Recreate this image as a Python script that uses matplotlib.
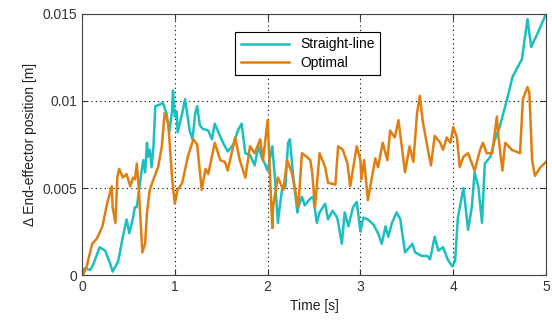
import matplotlib
matplotlib.use("Agg")
import matplotlib.pyplot as plt

# Straight-line trajectory error
t_straight = [0.01, 0.03, 0.09, 0.12, 0.19, 0.25, 0.30, 0.33, 0.39, 0.44, 0.48, 0.51, 0.55, 0.57,
              0.59, 0.63, 0.66, 0.68, 0.70, 0.71, 0.73, 0.75, 0.77, 0.79, 0.84, 0.87, 0.91, 0.94,
              0.97, 0.98, 1.00, 1.02, 1.03, 1.08, 1.11, 1.16, 1.19, 1.22, 1.24, 1.27, 1.30, 1.36,
              1.40, 1.43, 1.47, 1.52, 1.57, 1.63, 1.68, 1.72, 1.76, 1.81, 1.86, 1.90, 1.94, 1.97,
              2.00, 2.05, 2.08, 2.11, 2.13, 2.16, 2.19, 2.22, 2.24, 2.27, 2.32, 2.33, 2.37, 2.40,
              2.46, 2.49, 2.53, 2.56, 2.62, 2.65, 2.70, 2.75, 2.78, 2.80, 2.83, 2.87, 2.92, 2.96,
              3.00, 3.03, 3.08, 3.14, 3.19, 3.23, 3.27, 3.30, 3.34, 3.39, 3.43, 3.48, 3.56, 3.59,
              3.66, 3.72, 3.75, 3.80, 3.84, 3.89, 3.94, 3.99, 4.02, 4.05, 4.11, 4.16, 4.20, 4.23,
              4.27, 4.31, 4.34, 4.40, 4.45, 4.50, 4.58, 4.64, 4.74, 4.80, 4.84, 4.91, 5.00]
e_straight = [0.0002, 0.0004, 0.0003, 0.0006, 0.0016, 0.0014, 0.0007, 0.0002, 0.0008, 0.0022, 0.0032,
              0.0024, 0.0033, 0.0039, 0.0039, 0.0055, 0.0066, 0.0059, 0.0076, 0.0068, 0.0072, 0.0062,
              0.0074, 0.0097, 0.0098, 0.0099, 0.0093, 0.0082, 0.0094, 0.0106, 0.0091, 0.0094, 0.0082,
              0.0093, 0.0101, 0.0083, 0.0078, 0.0093, 0.0097, 0.0086, 0.0084, 0.0083, 0.0078, 0.0087,
              0.0082, 0.0076, 0.0071, 0.0075, 0.0083, 0.0087, 0.0070, 0.0069, 0.0063, 0.0074, 0.0067,
              0.0064, 0.0060, 0.0074, 0.0055, 0.0030, 0.0039, 0.0051, 0.0050, 0.0076, 0.0078, 0.0060,
              0.0036, 0.0039, 0.0045, 0.0040, 0.0044, 0.0045, 0.0030, 0.0036, 0.0041, 0.0032, 0.0037,
              0.0033, 0.0024, 0.0018, 0.0036, 0.0028, 0.0039, 0.0042, 0.0025, 0.0033, 0.0032, 0.0029,
              0.0024, 0.0018, 0.0028, 0.0022, 0.0030, 0.0036, 0.0032, 0.0013, 0.0018, 0.0013, 0.0011,
              0.0011, 0.0009, 0.0022, 0.0014, 0.0016, 0.0009, 0.0005, 0.0008, 0.0033, 0.0050, 0.0026,
              0.0039, 0.0059, 0.0051, 0.0030, 0.0064, 0.0068, 0.0078, 0.0085, 0.0101, 0.0114, 0.0124,
              0.0147, 0.0131, 0.0139, 0.0150]

# Optimal trajectory error
t_optimal = [0.01, 0.05, 0.11, 0.16, 0.22, 0.27, 0.32, 0.33, 0.36, 0.38, 0.40, 0.44, 0.48, 0.52,
             0.55, 0.57, 0.59, 0.61, 0.65, 0.68, 0.70, 0.73, 0.77, 0.82, 0.86, 0.89, 0.93, 0.97,
             1.00, 1.03, 1.08, 1.14, 1.20, 1.24, 1.29, 1.33, 1.36, 1.43, 1.49, 1.54, 1.57, 1.65,
             1.70, 1.76, 1.81, 1.86, 1.92, 1.95, 2.00, 2.05, 2.06, 2.11, 2.17, 2.21, 2.26, 2.33,
             2.37, 2.42, 2.46, 2.48, 2.51, 2.56, 2.62, 2.65, 2.73, 2.76, 2.81, 2.86, 2.89, 2.96,
             3.00, 3.01, 3.04, 3.08, 3.16, 3.19, 3.24, 3.29, 3.32, 3.37, 3.41, 3.45, 3.48, 3.53,
             3.57, 3.61, 3.64, 3.67, 3.72, 3.76, 3.80, 3.86, 3.89, 3.93, 3.97, 4.00, 4.04, 4.07,
             4.11, 4.16, 4.23, 4.29, 4.32, 4.36, 4.42, 4.47, 4.49, 4.53, 4.56, 4.63, 4.72, 4.75,
             4.80, 4.82, 4.85, 4.88, 4.94, 5.00]
e_optimal = [0.0000, 0.0005, 0.0018, 0.0021, 0.0028, 0.0041, 0.0051, 0.0039, 0.0030, 0.0056, 0.0061,
             0.0056, 0.0058, 0.0051, 0.0056, 0.0055, 0.0064, 0.0051, 0.0013, 0.0018, 0.0036, 0.0049,
             0.0055, 0.0062, 0.0074, 0.0093, 0.0087, 0.0056, 0.0041, 0.0049, 0.0053, 0.0068, 0.0078,
             0.0075, 0.0049, 0.0061, 0.0058, 0.0076, 0.0066, 0.0065, 0.0060, 0.0079, 0.0066, 0.0056,
             0.0074, 0.0070, 0.0078, 0.0066, 0.0089, 0.0027, 0.0040, 0.0056, 0.0049, 0.0066, 0.0059,
             0.0039, 0.0070, 0.0068, 0.0066, 0.0059, 0.0039, 0.0070, 0.0062, 0.0053, 0.0052, 0.0074,
             0.0072, 0.0064, 0.0051, 0.0074, 0.0066, 0.0055, 0.0066, 0.0043, 0.0067, 0.0062, 0.0076,
             0.0066, 0.0083, 0.0079, 0.0089, 0.0072, 0.0059, 0.0074, 0.0065, 0.0093, 0.0103, 0.0089,
             0.0074, 0.0063, 0.0080, 0.0076, 0.0072, 0.0079, 0.0076, 0.0085, 0.0079, 0.0062, 0.0068,
             0.0070, 0.0060, 0.0072, 0.0076, 0.0070, 0.0070, 0.0091, 0.0078, 0.0060, 0.0076, 0.0072,
             0.0070, 0.0101, 0.0108, 0.0105, 0.0066, 0.0057, 0.0062, 0.0065]

x_ticks = [0, 1, 2, 3, 4, 5]
y_ticks = [0, 0.005, 0.01, 0.015]
y_tick_labels = ["0", "0.005", "0.01", "0.015"]

plt.rcParams['font.family'] = ['Liberation Sans', 'DejaVu Sans']

fig = plt.figure(figsize=(5.52, 3.24), dpi=100)
ax = fig.add_axes([0.1486, 0.151, 0.8406, 0.806])

ax.plot(t_straight, e_straight, color='#1cbfc0', lw=1.8, label='Straight-line')
ax.plot(t_optimal, e_optimal, color='#e07f10', lw=1.8, label='Optimal')

ax.set_xlim(0, 5)
ax.set_ylim(0, 0.015)
ax.set_xticks(x_ticks)
ax.set_yticks(y_ticks)
ax.set_yticklabels(y_tick_labels)
ax.tick_params(direction='in', labelsize=10, colors='#333333', length=4, top=True, right=True,
               labeltop=False, labelright=False)
for s in ax.spines.values():
    s.set_color('#444444')
ax.grid(True, linestyle=(0, (1, 3)), color='black', lw=0.8)

ax.set_xlabel("Time [s]", fontsize=10, color='#222222')
ax.set_ylabel("Δ End-effector position [m]", fontsize=10, color='#222222')

leg = ax.legend(loc='upper left', bbox_to_anchor=(0.315, 0.958), fontsize=10, fancybox=False,
                framealpha=1, edgecolor='black', handlelength=3.5, borderpad=0.4, labelspacing=0.3)
leg.get_frame().set_linewidth(0.8)

fig.savefig("out.png", dpi=100)
